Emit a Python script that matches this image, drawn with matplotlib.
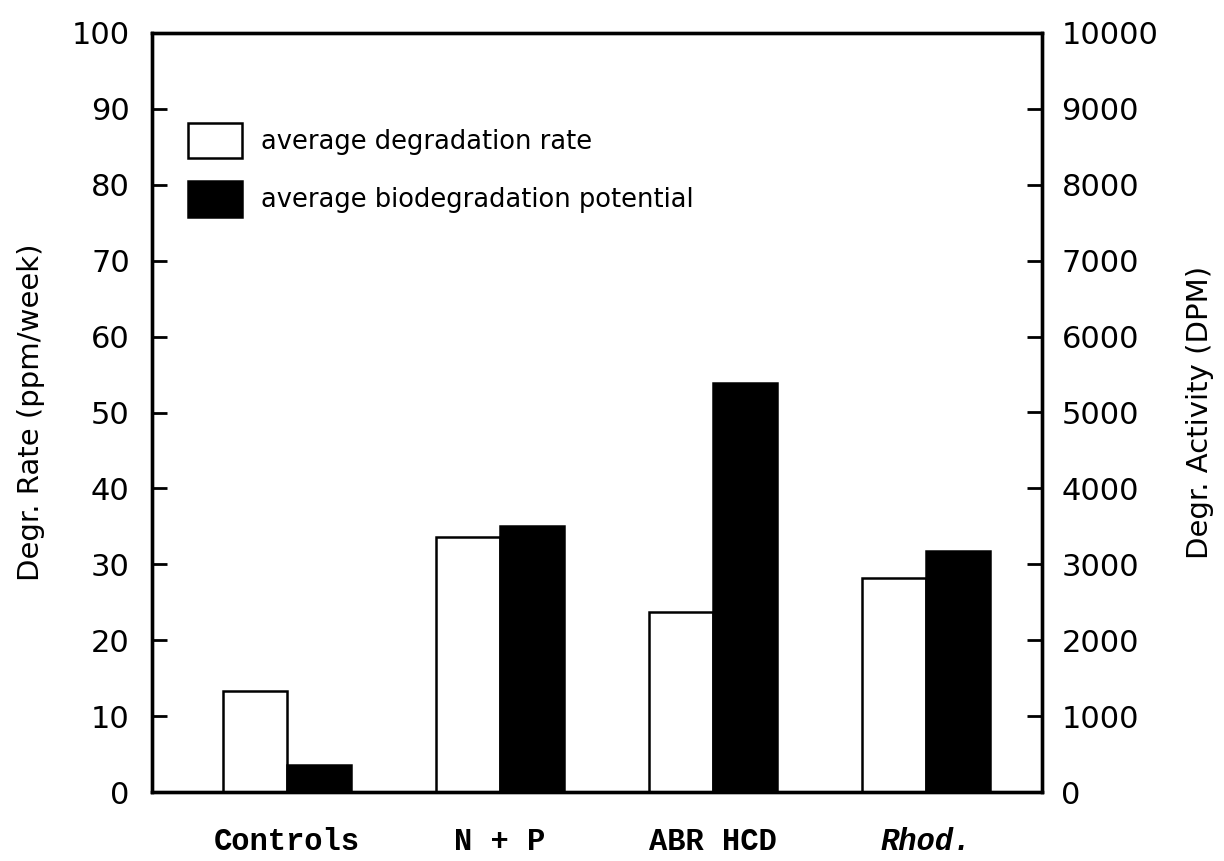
import matplotlib
matplotlib.use("Agg")
import matplotlib.pyplot as plt
import numpy as np
from matplotlib.patches import Patch

categories = ["Controls", "N + P", "ABR HCD", "Rhod."]
degradation_rate = [13.3, 33.6, 23.7, 28.2]          # ppm/week (left axis)
biodegradation_potential = [355, 3500, 5390, 3175]   # DPM (right axis)
left_ticks = [0, 10, 20, 30, 40, 50, 60, 70, 80, 90, 100]
right_ticks = [0, 1000, 2000, 3000, 4000, 5000, 6000, 7000, 8000, 9000, 10000]

fig = plt.figure(figsize=(12.24, 8.61), dpi=100)
ax = fig.add_axes([152/1224, 69/861, 890/1224, 759/861])
ax2 = ax.twinx()

x = np.arange(len(categories))
w = 0.30
ax.bar(x - w/2, degradation_rate, width=w, color="white", edgecolor="black", linewidth=1.8, zorder=2)
ax2.bar(x + w/2, biodegradation_potential, width=w, color="black", edgecolor="black", linewidth=1.8, zorder=2)

ax.set_xlim(-0.634, 3.545)
ax.set_ylim(0, 100)
ax2.set_ylim(0, 10000)
ax.set_yticks(left_ticks)
ax2.set_yticks(right_ticks)

tickfont = 22
ax.tick_params(axis="y", direction="in", length=11, width=2, labelsize=tickfont, pad=16)
ax2.tick_params(axis="y", direction="in", length=11, width=2, labelsize=tickfont, pad=14)
ax.set_xticks(x)
ax.set_xticklabels(categories)
ax.tick_params(axis="x", length=0, pad=25)
for i, lbl in enumerate(ax.get_xticklabels()):
    lbl.set_family("Liberation Mono")
    lbl.set_fontweight("bold")
    lbl.set_fontsize(22)
    if categories[i] == "Rhod.":
        lbl.set_fontstyle("italic")
ax2.tick_params(axis="x", length=0)

for a in (ax, ax2):
    for s in a.spines.values():
        s.set_linewidth(2.4)

ax.set_ylabel("Degr. Rate (ppm/week)", fontsize=21, labelpad=19)
ax2.set_ylabel("Degr. Activity (DPM)", fontsize=21, labelpad=20)

handles = [Patch(facecolor="white", edgecolor="black", linewidth=1.8),
           Patch(facecolor="black", edgecolor="black", linewidth=1.8)]
leg = ax2.legend(handles, ["average degradation rate", "average biodegradation potential"],
                 loc="upper left", bbox_to_anchor=(0.04, 0.882), frameon=False,
                 fontsize=18.5, handlelength=2.1, handleheight=1.75, labelspacing=0.9,
                 handletextpad=0.75, borderpad=0, borderaxespad=0)

fig.savefig("out.png", dpi=100)
